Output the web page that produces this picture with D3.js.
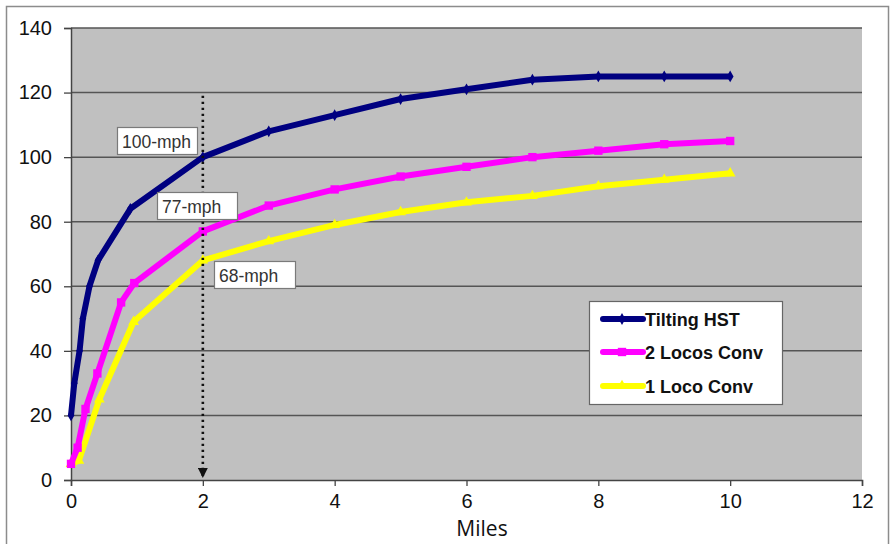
<!DOCTYPE html>
<html><head><meta charset="utf-8">
<script src="https://cdn.jsdelivr.net/npm/d3@7"></script>
<style>body{margin:0;background:#fff;}svg{display:block;font-family:"Liberation Sans",Arial,sans-serif;}</style>
</head><body><svg id="c" width="896" height="544"></svg>
<script>
const xTicks = [0, 2, 4, 6, 8, 10, 12];
const yTicks = [0, 20, 40, 60, 80, 100, 120, 140];
const seriesNames = ["Tilting HST", "2 Locos Conv", "1 Loco Conv"];
const hstX = [0, 0.05, 0.13, 0.18, 0.28, 0.41, 0.9, 2, 3, 4, 5, 6, 7, 8, 9, 10];
const hstY = [20, 30, 40, 50, 60, 68, 84, 100, 108, 113, 118, 121, 124, 125, 125, 125];
const loco2X = [0, 0.1, 0.22, 0.4, 0.76, 0.96, 2, 3, 4, 5, 6, 7, 8, 9, 10];
const loco2Y = [5, 10, 22, 33, 55, 61, 77, 85, 90, 94, 97, 100, 102, 104, 105];
const loco1X = [0, 0.12, 0.43, 0.95, 2, 3, 4, 5, 6, 7, 8, 9, 10];
const loco1Y = [5, 6, 25, 49, 68, 74, 79, 83, 86, 88, 91, 93, 95];
const annoLabels = ["100-mph", "77-mph", "68-mph"];
const markerX = 2;
const markerTop = 119;

const svg = d3.select("#c");
const L = 71, R = 862, T = 28, B = 480;
const x = d3.scaleLinear().domain([0, 12]).range([L, R]);
const y = d3.scaleLinear().domain([0, 140]).range([B, T]);

// outer chart border
svg.append("rect").attr("x", 6.5).attr("y", 6.5).attr("width", 882).attr("height", 560)
  .attr("fill", "#fff").attr("stroke", "#8c8c8c").attr("stroke-width", 1.5);

// plot area
svg.append("rect").attr("x", L).attr("y", T).attr("width", R - L).attr("height", B - T)
  .attr("fill", "#c0c0c0");

// gridlines
svg.append("g").selectAll("line").data(yTicks.filter(d => d > 0)).join("line")
  .attr("x1", L).attr("x2", R).attr("y1", d => y(d)).attr("y2", d => y(d))
  .attr("stroke", "#555").attr("stroke-width", 1.5);

// axes
const yAxis = d3.axisLeft(y).tickValues(yTicks).tickSize(7).tickPadding(12);
const gy = svg.append("g").attr("transform", `translate(${L},0)`).call(yAxis);
gy.select(".domain").attr("stroke", "#444").attr("stroke-width", 1.5);
gy.selectAll(".tick line").attr("stroke", "#444").attr("stroke-width", 1.3);
gy.selectAll("text").attr("font-size", 20).attr("fill", "#111").attr("font-family", "Liberation Sans, Arial");

const xAxis = d3.axisBottom(x).tickValues(xTicks).tickSize(6).tickPadding(8);
const gx = svg.append("g").attr("transform", `translate(0,${B})`).call(xAxis);
gx.select(".domain").attr("stroke", "#444").attr("stroke-width", 1.5);
gx.selectAll(".tick line").attr("stroke", "#444").attr("stroke-width", 1.3);
gx.selectAll("text").attr("font-size", 20).attr("fill", "#111").attr("font-family", "Liberation Sans, Arial");

svg.append("text").attr("x", 482).attr("y", 536).attr("text-anchor", "middle")
  .attr("font-size", 21).attr("fill", "#111").attr("font-family", "Open Sans, Liberation Sans")
  .text("Miles");

const series = [
  {name: seriesNames[0], xs: hstX, ys: hstY, color: "#000080", width: 6, marker: "diamond", ms: 40},
  {name: seriesNames[1], xs: loco2X, ys: loco2Y, color: "#ff00ff", width: 6, marker: "square", ms: 70},
  {name: seriesNames[2], xs: loco1X, ys: loco1Y, color: "#ffff00", width: 6, marker: "triangle", ms: 50}
];
const line = d3.line().x(d => x(d[0])).y(d => y(d[1]));
const symType = {diamond: d3.symbolDiamond, square: d3.symbolSquare, triangle: d3.symbolTriangle};

[...series].reverse().forEach(s => {
  const pts = s.xs.map((v, i) => [v, s.ys[i]]);
  svg.append("path").datum(pts).attr("d", line).attr("fill", "none")
    .attr("stroke", s.color).attr("stroke-width", s.width).attr("stroke-linejoin", "round");
  svg.append("g").selectAll("path").data(pts).join("path")
    .attr("transform", d => `translate(${x(d[0])},${y(d[1])})`)
    .attr("d", d3.symbol().type(symType[s.marker]).size(s.ms))
    .attr("fill", s.color);
});

// dotted marker line with arrow
svg.append("defs").append("marker").attr("id", "arr").attr("viewBox", "0 0 10 10")
  .attr("refX", 5).attr("refY", 10).attr("markerWidth", 10).attr("markerHeight", 10)
  .attr("markerUnits", "userSpaceOnUse").attr("orient", "0")
  .append("path").attr("d", "M0,0 L10,0 L5,10 Z").attr("fill", "#111");
svg.append("line").attr("x1", x(markerX)).attr("x2", x(markerX))
  .attr("y1", y(markerTop)).attr("y2", y(0) - 2)
  .attr("stroke", "#111").attr("stroke-width", 2.6).attr("stroke-dasharray", "2.2,3.8")
  .attr("stroke-linecap", "butt").attr("marker-end", "url(#arr)");

// annotation boxes
const boxPos = [[117, 127], [157, 192], [214, 261]];
const boxW = [80, 80, 81], boxH = 27;
annoLabels.forEach((t, i) => {
  const g = svg.append("g");
  g.append("rect").attr("x", boxPos[i][0] + 0.5).attr("y", boxPos[i][1] + 0.5)
    .attr("width", boxW[i]).attr("height", boxH)
    .attr("fill", "#fff").attr("stroke", "#7a7a7a").attr("stroke-width", 1.2);
  g.append("text").attr("x", boxPos[i][0] + 5).attr("y", boxPos[i][1] + 21)
    .attr("font-size", 17.5).attr("fill", "#333").attr("font-family", "Liberation Sans, Arial").text(t);
});

// legend
const lg = svg.append("g");
lg.append("rect").attr("x", 589.5).attr("y", 301.5).attr("width", 193).attr("height", 103)
  .attr("fill", "#fff").attr("stroke", "#666").attr("stroke-width", 1.2);
const legY = [319, 352, 386];
series.forEach((s, i) => {
  lg.append("line").attr("x1", 603).attr("x2", 643).attr("y1", legY[i]).attr("y2", legY[i])
    .attr("stroke", s.color).attr("stroke-width", 6).attr("stroke-linecap", "round");
  lg.append("path").attr("transform", `translate(622,${legY[i]})`)
    .attr("d", d3.symbol().type(symType[s.marker]).size(s.ms)).attr("fill", s.color);
  lg.append("text").attr("x", 645).attr("y", legY[i] + 7).attr("font-size", 18)
    .attr("font-weight", "bold").attr("fill", "#111").attr("font-family", "Liberation Sans, Arial")
    .text(s.name);
});
</script></body></html>
